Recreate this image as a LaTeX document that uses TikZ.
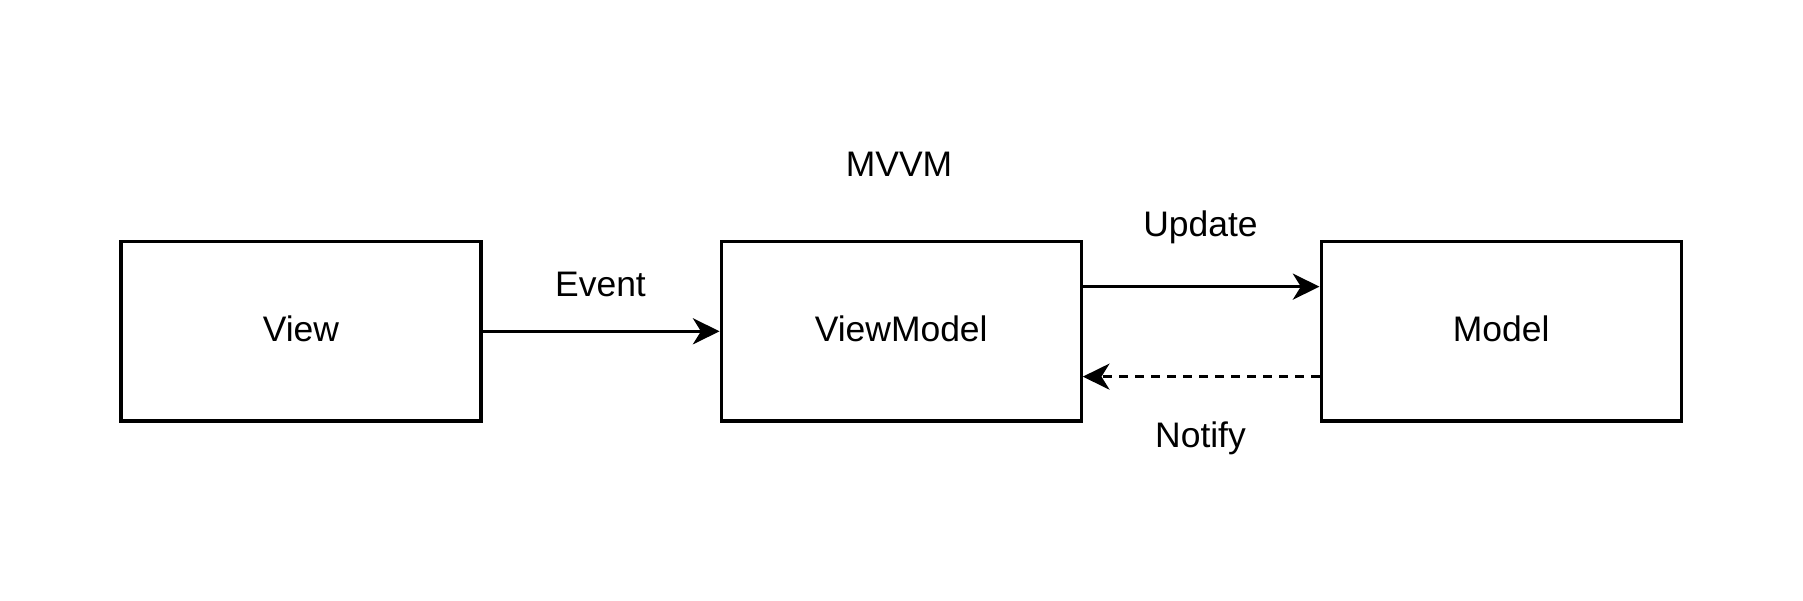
\documentclass[tikz,border=0pt]{standalone}
\usepackage{fontspec}
\setmainfont{Liberation Sans}
\usetikzlibrary{arrows.meta}
\begin{document}
\begin{tikzpicture}[x=0.75pt,y=-0.75pt,
  every node/.style={font=\fontsize{26.6}{32}\selectfont},
  box/.style={draw, line width=2.4pt, minimum width=270pt, minimum height=134.5pt,
    inner sep=0pt, text height=14.6pt, text depth=0pt},
  lbl/.style={anchor=base, inner sep=0pt},
  conn/.style={line width=2.4pt, -{Stealth[length=20pt, width=19.5pt, inset=6pt]}},
  dashconn/.style={conn, dash pattern=on 6.5pt off 5.5pt}]
\useasboundingbox[fill=white] (0,0) rectangle (1803,600);
\node[box] (view) at (300.9,331.3) {View};
\node[box] (vm) at (901.2,331.3) {ViewModel};
\node[box] (model) at (1501.1,331.3) {Model};
\node[lbl] (title) at (899,176) {MVVM};
\node[lbl] (event) at (600.5,296.7) {Event};
\node[lbl] (update) at (1200.5,236.7) {Update};
\node[lbl] (notify) at (1200.5,447) {Notify};
\draw[conn] (view.east) -- (vm.west);
\draw[conn] ([yshift=33.5pt]vm.east) -- ([yshift=33.5pt]model.west);
\draw[dashconn] ([yshift=-34pt]model.west) -- ([yshift=-34pt]vm.east);
\end{tikzpicture}
\end{document}
